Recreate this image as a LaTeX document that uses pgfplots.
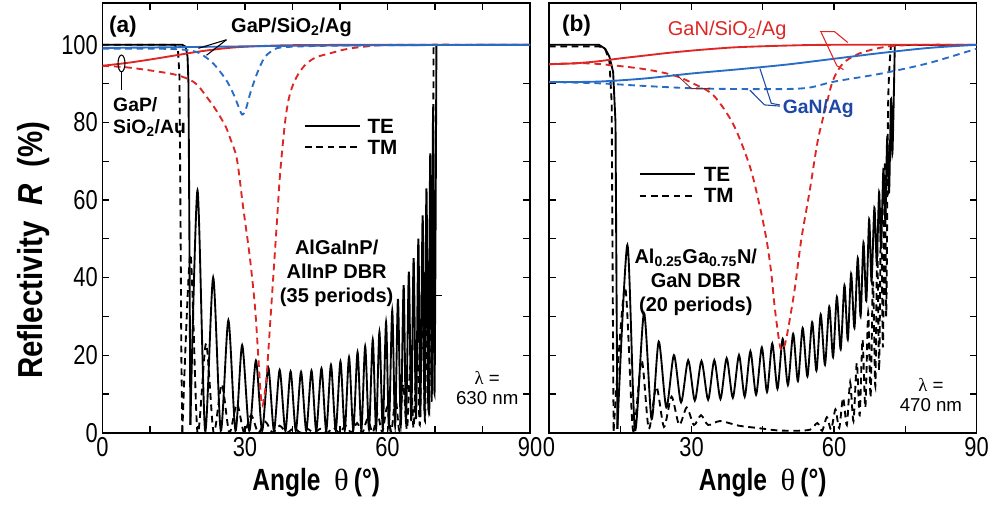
\documentclass[border=0pt]{standalone}
\usepackage{fontspec}
\setmainfont{Liberation Sans}
\newfontfamily\cond[FakeStretch=0.8]{Liberation Sans}
\newfontfamily\condl[FakeStretch=0.85]{Liberation Sans}
\newfontfamily\serif{Liberation Serif}
\usepackage{pgfplots}
\pgfplotsset{compat=1.18}
\definecolor{cred}{RGB}{222,38,36}
\definecolor{cblue}{RGB}{40,108,198}
\definecolor{dblue}{RGB}{30,72,165}
\definecolor{dkred}{RGB}{120,40,40}
\pgfplotsset{panel/.style={
  scale only axis, width=320.625pt, height=322.05pt,
  xmin=0,xmax=90,ymin=0,ymax=110.7,
  xtick={0,30,60,90}, ytick={0,20,...,100}, minor ytick={10,30,...,90},
  tick align=inside, major tick length=5pt, minor tick length=5pt,
  every tick/.style={line width=0.9pt, black},
  axis line style={line width=1.3pt},
  tick label style={font=\cond\fontsize{20.5}{20.5}\selectfont},
  /pgf/number format/assume math mode=true,
  xlabel={\cond\bfseries\fontsize{23}{23}\selectfont Angle\ \ {\serif\mdseries θ}\,(°)},
  xlabel style={at={(axis description cs:0.5,0)},anchor=center,yshift=-37.7pt},
}}
\tikzset{te/.style={line width=1.4pt}, tm/.style={line width=1.4pt, dash pattern=on 5pt off 3.5pt},
  lead/.style={line width=0.8pt}}
\begin{document}
\begin{tikzpicture}
\useasboundingbox (0,0) rectangle (746.25pt,380.25pt);
% ---------------- panel (a)
\begin{axis}[panel, at={(76.875pt,55.725pt)}, anchor=south west,
  minor xtick={10,20,40,50,70,80},
  ylabel={\condl\bfseries\fontsize{26}{26}\selectfont Reflectivity\ \ {\itshape R}\ \ (\%)},
  ylabel style={at={(axis description cs:0,0.425)},anchor=center,yshift=52pt},
]
% black TE
\addplot[te, black] coordinates {(0,100)(16.8,100)(17.5,99.5)(17.9,97)(18.1,90)(18.3,50)(18.5,2)};
\addplot[te, black, smooth, tension=0.45] coordinates {(18.5,2)(20.0,62.5)(21.6,0.5)(23.3,40)(24.9,0.5)(26.5,29)(28.0,0.5)(29.4,22.6)(30.9,0.5)(32.3,18.6)(33.6,0.5)(34.9,16.8)(36.1,0.5)(37.3,16.2)(38.5,0.5)(39.6,15.8)(40.7,0.5)(41.8,15.7)(42.9,0.5)(44.0,16.0)(45.0,0.5)(46.1,16.6)(47.1,0.5)(48.1,17.5)(49.1,0.6)(50.1,18.4)(51.0,0.6)(51.9,19.5)(52.8,0.7)(53.7,20.8)(54.5,0.8)(55.3,22.3)(56.1,0.9)(56.9,24.0)(57.6,1)(58.3,26.0)(59.0,1.2)(59.7,28.5)(60.3,1.5)(61.0,31.5)(61.6,1.8)(62.2,34.5)(62.8,2)(63.4,38)(63.9,2.5)(64.5,41.5)(65.0,3)(65.5,45)(66.0,3.5)(66.5,50)(66.9,4)(67.4,56)(67.8,5)(68.2,63)(68.6,6)(69.0,72)(69.3,8)(69.6,84)(69.9,10)(70.3,100)};
\addplot[te, black] coordinates {(70.3,100)(90,100)};
% black TM
\addplot[tm, black] coordinates {(0,100)(15.2,100)(15.9,98.5)(16.2,92)(16.4,60)(16.6,20)(16.8,0)};
\addplot[tm, black, smooth, tension=0.45] coordinates {(16.8,0)(18.5,46)(20.0,0)(21.8,23)(23.4,0)(25.1,12.5)(26.7,0)(28.3,7.5)(29.8,0)(31.3,4.5)(32.8,0)(34.3,2.8)(35.8,0)(37.3,1.8)(38.8,0)(40.3,1.2)(41.7,0)(43.1,1)(44.5,0)(45.9,1)(47.3,0)(48.6,1.3)(49.9,0)(51.2,1.8)(52.4,0)(53.6,2.5)(54.7,0)(55.8,3.5)(56.9,0)(57.9,4.8)(58.9,0.2)(59.9,6.5)(60.8,0.3)(61.7,9)(62.5,0.5)(63.3,12.5)(64.1,0.8)(64.8,17)(65.5,1.2)(66.2,23)(66.8,2)(67.4,32)(67.9,3)(68.4,45)(68.8,5)(69.1,65)(69.4,10)(69.7,100)};
\addplot[tm, black] coordinates {(69.7,100)(90,100)};
% red TE / TM (GaP/SiO2/Au)
\addplot[te, cred, smooth] coordinates {(0,94.6)(5,95.3)(10,96.2)(15,97.2)(20,98.2)(25,99.0)(30,99.5)(40,99.9)(60,100)(90,100)};
\addplot[tm, cred, smooth, tension=0.5] coordinates {(0,94.6)(5,94.2)(10,93.4)(15,92.4)(18,91.2)(20,89.6)(22.4,85.8)(24,83)(25.9,79)(27,75.5)(28.3,70.5)(29.6,58.2)(31,45.4)(32.1,32.5)(32.8,19.6)(33.3,10)(33.7,7)(34.2,10.5)(34.6,15.3)(35.3,28.2)(36,41.1)(36.7,54)(37.4,66.9)(38.4,79.7)(39.2,86)(40.2,90)(41.5,93)(43,95.2)(45,96.8)(47.9,97.8)(51,98.8)(55,99.5)(62,100)(90,100)};
% blue TE / TM (GaP/SiO2/Ag)
\addplot[te, cblue, smooth] coordinates {(0,99.2)(10,99.3)(20,99.45)(30,99.6)(40,99.75)(60,99.9)(90,100)};
\addplot[tm, cblue, smooth, tension=0.5] coordinates {(0,99.0)(10,99.0)(15,98.9)(18,98.6)(20.5,97.8)(23.3,95.2)(26,91)(27.5,87.5)(28.5,84.5)(29.4,82)(30.2,83.5)(31.1,87.5)(32.5,92.5)(34,96.5)(35.5,98.3)(37.5,99.3)(45,99.7)(60,99.9)(90,100)};
% annotations
\node[font=\bfseries\fontsize{17}{17}\selectfont] at (axis cs:4.3,104.8) {(a)};
\node[font=\bfseries\fontsize{15}{15}\selectfont] at (axis cs:39.8,104.5) {GaP/SiO\textsubscript{2}/Ag};
\draw[lead] (axis cs:26.1,101.3) -- (axis cs:20.2,99.1);
\draw[lead] (axis cs:26.1,101.3) -- (axis cs:21.9,97.3);
\draw[lead] (axis cs:4,95.2) ellipse [x radius=2.6pt, y radius=6.3pt];
\draw[lead] (axis cs:4,93.0) -- (axis cs:4,88.3);
\node[font=\bfseries\fontsize{14.5}{16}\selectfont, align=left, anchor=west, inner sep=0pt] at (axis cs:2.2,81.4) {GaP/\\SiO\textsubscript{2}/Au};
\draw[te] (axis cs:42.6,79) -- (axis cs:54.2,79);
\draw[tm] (axis cs:42.6,73.6) -- (axis cs:54.2,73.6);
\node[font=\bfseries\fontsize{15.5}{16}\selectfont, anchor=west] at (axis cs:54.8,79) {TE};
\node[font=\bfseries\fontsize{15.5}{16}\selectfont, anchor=west] at (axis cs:54.8,73.6) {TM};
\node[font=\bfseries\fontsize{15}{18}\selectfont, align=center] at (axis cs:49.3,41) {AlGaInP/\\AlInP DBR\\(35 periods)};
\draw[lead] (axis cs:69.3,35.4) -- (axis cs:71.4,35.4);
\node[font=\fontsize{14}{15}\selectfont, align=center] at (axis cs:81,11.5) {{\serif λ} =\\630 nm};
\end{axis}
% ---------------- panel (b)
\begin{axis}[panel, at={(411.75pt,55.725pt)}, anchor=south west,
  minor xtick={15,45,75}, yticklabels={},
]
% black TE
\addplot[te, black] coordinates {(0,100)(10.5,100)(11.8,99)(12.7,97)(13.5,93)(14.0,80)(14.2,40)(14.4,1)};
\addplot[te, black, smooth, tension=0.45] coordinates {(14.4,1)(16.5,48.4)(18.1,0.7)(20.0,30.8)(21.6,3.5)(23.1,23.5)(24.7,6.5)(26.3,20.0)(27.8,7.8)(29.3,18.7)(30.7,8.3)(32.1,18.5)(33.5,8.5)(34.8,18.7)(36.1,8.7)(37.4,19.2)(38.7,9)(40.0,20.0)(41.2,9.3)(42.4,21.0)(43.6,9.8)(44.8,22.0)(45.9,10.5)(47.0,23.0)(48.1,11.3)(49.2,24.2)(50.3,12.3)(51.4,25.5)(52.4,13.3)(53.4,27.0)(54.4,14.5)(55.4,28.5)(56.3,16)(57.2,30.5)(58.1,17.5)(59.0,32.5)(59.8,19.5)(60.6,35)(61.4,21.5)(62.2,38)(62.9,24)(63.6,41)(64.3,27)(65.0,45)(65.6,30)(66.2,49)(66.8,34)(67.4,55)(67.9,39)(68.5,58)(69.0,44)(69.5,62)(69.9,48)(70.4,68)(70.8,55)(71.2,76)(71.6,62)(72.0,86)(72.3,72)(72.8,100)};
\addplot[te, black] coordinates {(72.8,100)(90,100)};
% black TM
\addplot[tm, black] coordinates {(0,99.6)(10.5,99.6)(11.8,99)(12.7,96)(13.2,85)(13.4,40)(13.6,0.5)};
\addplot[tm, black, smooth, tension=0.45] coordinates {(13.6,0.5)(16.0,37.6)(17.7,0.5)(19.5,18.7)(21.0,1)(22.6,11.9)(24.2,1.5)(25.8,9.3)(27.4,2)(29.0,6.5)(30.5,2)(32.0,4.5)(33.5,2)(36,3)(40,1.8)(44,1.2)(48,0.6)(52,0.5)(55,0.8)(56.5,2.5)(57.5,0.5)(58.5,4)(59.4,0.8)(60.3,6)(61.1,1.2)(61.9,9)(62.7,2)(63.4,13)(64.1,3)(64.8,18)(65.4,4.5)(66.0,24)(66.6,6.5)(67.2,31)(67.7,9)(68.2,39)(68.7,12)(69.1,48)(69.5,16)(69.9,58)(70.3,22)(70.7,70)(71.0,30)(71.4,85)(72.0,100)};
\addplot[tm, black] coordinates {(72.0,100)(90,100)};
% red (GaN/SiO2/Ag)
\addplot[te, cred, smooth] coordinates {(0,95)(5,95.2)(10,95.7)(15,96.5)(20,97.2)(25,97.9)(30,98.5)(35,99)(40,99.4)(50,99.8)(60,100)(90,100)};
\addplot[tm, cred, smooth, tension=0.5] coordinates {(0,95)(8.6,95.2)(19.1,93.9)(26.1,92.2)(30.4,90)(34.6,87)(38.8,79.5)(42.3,68.6)(44.4,58.2)(45.8,49.7)(46.8,41.1)(47.5,32.5)(48.4,24)(48.9,21.3)(49.6,22.5)(50.3,26.5)(51.7,36.8)(53.1,49.7)(54.9,62.5)(56.6,75.4)(58.4,84.5)(59.8,90.9)(61.9,95.2)(65.4,97.8)(71,99.5)(78,100)(90,100)};
% blue (GaN/Ag)
\addplot[te, cblue, smooth] coordinates {(0,90.4)(10,90.5)(20,91.3)(30,92.6)(40,93.7)(50,94.9)(60,96.4)(70,97.9)(80,99.2)(90,100)};
\addplot[tm, cblue, smooth] coordinates {(0,90.4)(10,90.1)(20,89.4)(30,88.8)(40,88.6)(50,88.6)(55,89)(60,90.5)(70,92.6)(80,95.3)(90,99)};
% annotations
\node[font=\bfseries\fontsize{17}{17}\selectfont] at (axis cs:5.8,105) {(b)};
\node[font=\fontsize{15}{15}\selectfont, text=cred] at (axis cs:37.5,103.8) {GaN/SiO\textsubscript{2}/Ag};
\draw[lead, cred] (axis cs:57,103.4) -- (axis cs:60.1,103.4) -- (axis cs:62.9,100.6);
\draw[lead, cred] (axis cs:57.3,103.2) -- (axis cs:60.6,94.6) -- (axis cs:62,93.6);
\node[font=\bfseries\fontsize{14.5}{14.5}\selectfont, text=dblue] at (axis cs:56.7,83.6) {GaN/Ag};
\draw[lead, dblue] (axis cs:44.4,93.9) -- (axis cs:46.8,84.9) -- (axis cs:48.6,84.5);
\draw[lead, dblue] (axis cs:42.3,88.3) -- (axis cs:45.4,84.5) -- (axis cs:48.6,84.2);
\draw[line width=0.6pt, dkred] (axis cs:26.9,92.2) -- (axis cs:30,88.7) -- (axis cs:33.9,88.7);
\draw[te] (axis cs:19.1,66.6) -- (axis cs:30.7,66.6);
\draw[tm] (axis cs:19.1,61.1) -- (axis cs:30.7,61.1);
\node[font=\bfseries\fontsize{15.5}{16}\selectfont, anchor=west] at (axis cs:31.6,66.6) {TE};
\node[font=\bfseries\fontsize{15.5}{16}\selectfont, anchor=west] at (axis cs:31.6,61.1) {TM};
\node[font=\bfseries\fontsize{15}{18}\selectfont, align=center] at (axis cs:30.9,38.8) {Al\textsubscript{0.25}Ga\textsubscript{0.75}N/\\GaN DBR\\(20 periods)};
\node[font=\fontsize{14}{15}\selectfont, align=center] at (axis cs:80.4,9.7) {{\serif λ} =\\470 nm};
\end{axis}
\end{tikzpicture}
\end{document}
